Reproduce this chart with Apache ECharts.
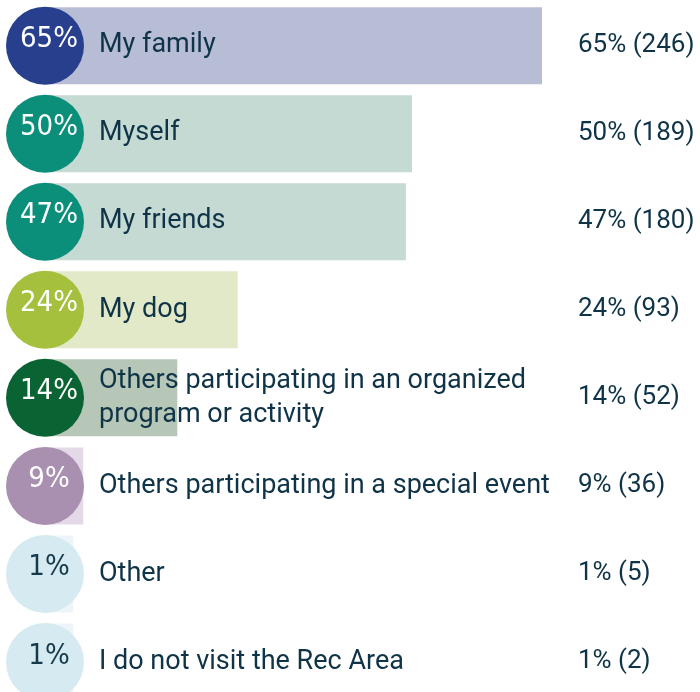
<!DOCTYPE html>
<html>
<head>
<meta charset="utf-8">
<script src="https://cdn.jsdelivr.net/npm/echarts@6/dist/echarts.min.js"></script>
<style>html,body{margin:0;padding:0;background:#fff;overflow:hidden;}#c{width:700px;height:706px;}</style>
</head>
<body>
<div id="c"></div>
<script>
const categories = [
  "My family",
  "Myself",
  "My friends",
  "My dog",
  "Others participating in an organized\nprogram or activity",
  "Others participating in a special event",
  "Other",
  "I do not visit the Rec Area"
];
const percents = [65, 50, 47, 24, 14, 9, 1, 1];
const counts = [246, 189, 180, 93, 52, 36, 5, 2];
// bar lengths as drawn in the picture (in % units)
const barLengths = [65, 48, 47.2, 25.2, 17.3, 5, 3.7, 3.7];

const circleColors = ["#283f8e", "#0b8f7a", "#0b8f7a", "#a4c03c", "#0a6332", "#a98fb0", "#d6eaf1", "#d6eaf1"];
const barColors = ["#b8bdd6", "#c6dad4", "#c6dad4", "#e2e9c8", "#b7c7b7", "#e3d9e7", "#eef5f8", "#eef5f8"];
const circleTextColors = ["#fff", "#fff", "#fff", "#fff", "#fff", "#fff", "#173a4a", "#173a4a"];

const chart = echarts.init(document.getElementById('c'), null, {renderer: 'canvas'});
const textColor = '#0f3347';
chart.setOption({
  animation: false,
  grid: {left: 45, top: 1.6, right: 43.3, bottom: 0, containLabel: false},
  xAxis: {type: 'value', min: 0, max: 80, show: false},
  yAxis: [
    {
      type: 'category', data: categories, inverse: true, z: 10,
      axisLine: {show: false}, axisTick: {show: false}, splitLine: {show: false},
      axisLabel: {inside: true, margin: 54, align: 'left', color: textColor,
        fontFamily: 'Roboto', fontSize: 27, lineHeight: 34}
    },
    {
      type: 'category', data: categories, inverse: true, position: 'right', z: 10,
      axisLine: {show: false}, axisTick: {show: false}, splitLine: {show: false},
      axisLabel: {inside: true, margin: 78.7, align: 'left', color: textColor,
        fontFamily: 'Roboto', fontSize: 26,
        formatter: (v, i) => percents[i] + '% (' + counts[i] + ')'}
    }
  ],
  series: [
    {
      type: 'bar', barWidth: 77, z: 2,
      data: barLengths.map((v, i) => ({value: v, itemStyle: {color: barColors[i]}}))
    },
    {
      type: 'scatter', symbol: 'circle', symbolSize: 78, z: 5,
      data: percents.map((p, i) => ({
        value: [0, i],
        itemStyle: {color: circleColors[i], opacity: 1},
        label: {color: circleTextColors[i]}
      })),
      label: {show: true, position: 'inside', offset: [4, -6],
        fontFamily: '"Liberation Sans Narrow", "DejaVu Sans Condensed", sans-serif', fontWeight: 'normal', fontSize: 29,
        formatter: p => percents[p.dataIndex] + '%'}
    }
  ]
});
</script>
</body>
</html>
